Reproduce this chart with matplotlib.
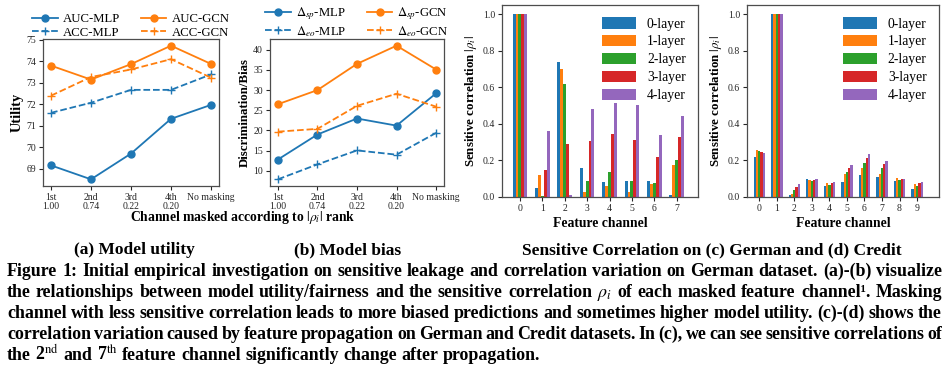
import numpy as np
import matplotlib
matplotlib.use('Agg')
import matplotlib.pyplot as plt

plt.rcParams['font.family'] = ['Liberation Serif', 'DejaVu Serif']
plt.rcParams['mathtext.fontset'] = 'stix'

# ---- data ----
mask_labels = ['1st\n1.00', '2nd\n0.74', '3rd\n0.22', '4th\n0.20', 'No masking']
auc_mlp = [69.15, 68.5, 69.7, 71.32, 71.97]
acc_mlp = [71.6, 72.07, 72.67, 72.67, 73.39]
auc_gcn = [73.8, 73.15, 73.87, 74.73, 73.88]
acc_gcn = [72.4, 73.27, 73.62, 74.1, 73.24]

sp_mlp = [12.8, 19.0, 22.96, 21.2, 29.2]
eo_mlp = [7.9, 11.6, 15.06, 14.0, 19.4]
sp_gcn = [26.5, 30.0, 36.5, 41.0, 35.1]
eo_gcn = [19.7, 20.4, 26.1, 29.1, 25.9]

layer_names = ['0-layer', '1-layer', '2-layer', '3-layer', '4-layer']
german_l0 = [1.0, 0.05, 0.74, 0.16, 0.08, 0.09, 0.085, 0.01]
german_l1 = [1.0, 0.12, 0.70, 0.03, 0.06, 0.03, 0.07, 0.175]
german_l2 = [1.0, 0.003, 0.62, 0.09, 0.135, 0.085, 0.075, 0.20]
german_l3 = [1.0, 0.15, 0.29, 0.305, 0.345, 0.31, 0.22, 0.33]
german_l4 = [1.0, 0.36, 0.01, 0.48, 0.515, 0.505, 0.34, 0.445]

credit_l0 = [0.22, 1.0, 0.01, 0.10, 0.06, 0.08, 0.118, 0.11, 0.09, 0.045]
credit_l1 = [0.256, 1.0, 0.015, 0.095, 0.075, 0.127, 0.161, 0.128, 0.105, 0.07]
credit_l2 = [0.252, 1.0, 0.04, 0.09, 0.065, 0.138, 0.188, 0.161, 0.095, 0.06]
credit_l3 = [0.246, 1.0, 0.055, 0.095, 0.077, 0.161, 0.213, 0.178, 0.10, 0.075]
credit_l4 = [0.24, 1.0, 0.072, 0.097, 0.082, 0.177, 0.234, 0.197, 0.10, 0.08]

caption_lines = [
    "Figure 1: Initial empirical investigation on sensitive leakage and correlation variation on German dataset. (a)-(b) visualize",
    "the relationships between model utility/fairness and the sensitive correlation $\\rho_i$ of each masked feature channel\u00b9. Masking",
    "channel with less sensitive correlation leads to more biased predictions and sometimes higher model utility. (c)-(d) shows the",
    "correlation variation caused by feature propagation on German and Credit datasets. In (c), we can see sensitive correlations of",
    r"the 2$^\mathrm{nd}$ and 7$^\mathrm{th}$ feature channel significantly change after propagation.",
]

W, H = 949, 370
fig = plt.figure(figsize=(W / 100, H / 100), dpi=100)

def px_rect(l, r, t, b):
    return [l / W, 1 - b / H, (r - l) / W, (b - t) / H]

blue, orange = '#1f77b4', '#ff7f0e'
tick_fs = 7
lab_fs = 9.3
spine_c = '0.3'

def style(ax):
    for s in ax.spines.values():
        s.set_color(spine_c)
        s.set_linewidth(0.9)
    ax.tick_params(labelsize=tick_fs, colors='0.15', length=3, width=0.8, pad=2)

def line_legend(ax):
    ax.legend(ncol=2, loc='lower center', bbox_to_anchor=(0.5, 0.955), frameon=False,
              fontsize=9.2, handlelength=2.0, handletextpad=0.4, columnspacing=1.6,
              labelspacing=0.12, borderaxespad=0.15)

# ---- (a) utility ----
ax1 = fig.add_axes(px_rect(43, 219, 39, 186))
x = np.arange(len(mask_labels))
ax1.plot(x, auc_mlp, '-o', color=blue, lw=1.3, ms=5, label='AUC-MLP')
ax1.plot(x, acc_mlp, '--+', color=blue, lw=1.3, ms=6, label='ACC-MLP')
ax1.plot(x, auc_gcn, '-o', color=orange, lw=1.3, ms=5, label='AUC-GCN')
ax1.plot(x, acc_gcn, '--+', color=orange, lw=1.3, ms=6, label='ACC-GCN')
ax1.set_xticks(x)
ax1.set_xticklabels(mask_labels, linespacing=0.95)
ax1.set_yticks([69, 70, 71, 72, 73, 74, 75])
ax1.set_ylabel('Utility', fontsize=lab_fs + 1, fontweight='bold', labelpad=2)
style(ax1)
line_legend(ax1)

# ---- (b) bias ----
ax2 = fig.add_axes(px_rect(270, 444, 39, 186))
ax2.plot(x, sp_mlp, '-o', color=blue, lw=1.3, ms=5, label=r'$\Delta_{sp}$-MLP')
ax2.plot(x, eo_mlp, '--+', color=blue, lw=1.3, ms=6, label=r'$\Delta_{eo}$-MLP')
ax2.plot(x, sp_gcn, '-o', color=orange, lw=1.3, ms=5, label=r'$\Delta_{sp}$-GCN')
ax2.plot(x, eo_gcn, '--+', color=orange, lw=1.3, ms=6, label=r'$\Delta_{eo}$-GCN')
ax2.set_xticks(x)
ax2.set_xticklabels(mask_labels, linespacing=0.95)
ax2.set_yticks([10, 15, 20, 25, 30, 35, 40])
ax2.set_ylabel('Discrimination/Bias', fontsize=lab_fs, fontweight='bold', labelpad=2)
style(ax2)
line_legend(ax2)

fig.text(243 / W, 1 - 218 / H, r'Channel masked according to $|\rho_i|$ rank',
         ha='center', va='center', fontsize=lab_fs + 0.5, fontweight='bold')

# ---- (c), (d) bar charts ----
colors = ['#1f77b4', '#ff7f0e', '#2ca02c', '#d62728', '#9467bd']
bw = 0.13

def bars(ax, series, xlim):
    n = len(series[0])
    xs = np.arange(n)
    for i, vals in enumerate(series):
        ax.bar(xs + (i - 2) * bw, vals, width=bw, color=colors[i], label=layer_names[i])
    ax.set_xticks(xs)
    ax.set_xlim(*xlim)
    ax.set_ylim(0, 1.05)
    ax.set_yticks([0, 0.2, 0.4, 0.6, 0.8, 1.0])
    ax.set_xlabel('Feature channel', fontsize=lab_fs + 0.5, fontweight='bold', labelpad=3)
    ax.set_ylabel(r'Sensitive correlation $|\rho_i|$', fontsize=lab_fs, fontweight='bold', labelpad=3)
    style(ax)
    ax.legend(loc='upper right', frameon=False, fontsize=9.8, handlelength=2.5,
              handleheight=0.9, labelspacing=0.33, borderaxespad=0.5)

ax3 = fig.add_axes(px_rect(502, 698, 5, 197))
bars(ax3, [german_l0, german_l1, german_l2, german_l3, german_l4], (-0.8, 7.95))
ax4 = fig.add_axes(px_rect(747, 939, 5, 197))
bars(ax4, [credit_l0, credit_l1, credit_l2, credit_l3, credit_l4], (-0.7, 10.25))

# ---- subcaptions ----
sub_fs = 12.5
fig.text(134 / W, 1 - 250 / H, '(a) Model utility', ha='center', va='center', fontsize=sub_fs, fontweight='bold')
fig.text(348 / W, 1 - 250 / H, '(b) Model bias', ha='center', va='center', fontsize=sub_fs, fontweight='bold')
fig.text(712 / W, 1 - 250 / H, 'Sensitive Correlation on (c) German and (d) Credit',
         ha='center', va='center', fontsize=sub_fs, fontweight='bold')

# ---- caption, justified word by word ----
renderer = fig.canvas.get_renderer()
x_left, x_right = 7, 942
probe = fig.text(0, 0, caption_lines[0], fontsize=10, fontweight='bold')
cap_fs = min(14, 10 * (x_right - x_left) / probe.get_window_extent(renderer).width)
probe.remove()
for k, line in enumerate(caption_lines):
    y = 1 - (276 + 21 * k) / H
    words = line.split(' ')
    items = [fig.text(0, y, w, fontsize=cap_fs, fontweight='bold', va='baseline') for w in words]
    widths = [t.get_window_extent(renderer).width for t in items]
    if k < len(caption_lines) - 1:
        gap = (x_right - x_left - sum(widths)) / (len(words) - 1)
    else:
        gap = cap_fs * 100 / 72 * 0.25
    pos = x_left
    for t, w in zip(items, widths):
        t.set_x(pos / W)
        pos += w + gap

fig.savefig('out.png', dpi=100)
